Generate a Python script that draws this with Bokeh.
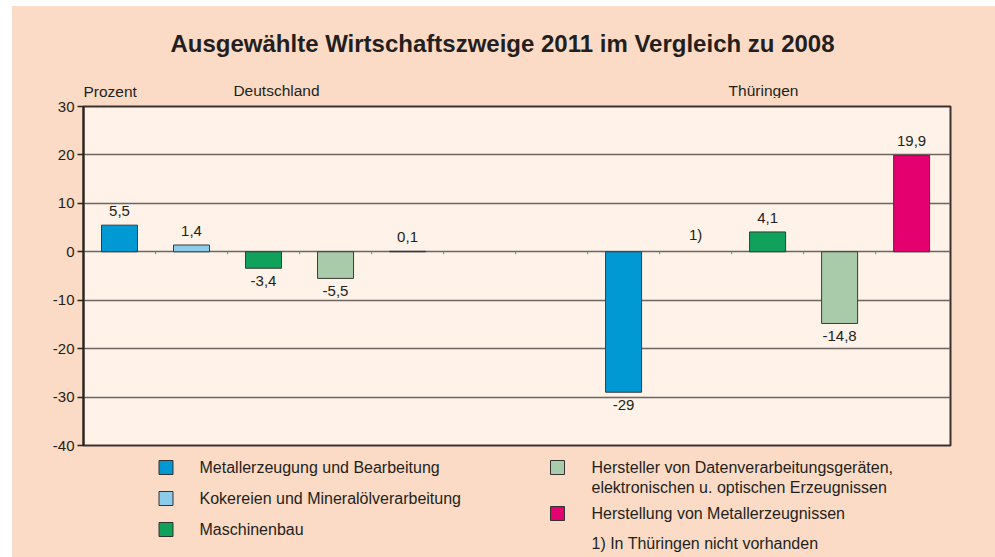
import numpy as np
from bokeh.plotting import figure
from bokeh.models import Range1d, FixedTicker, ColumnDataSource, Spacer
from bokeh.layouts import column, row
from bokeh.embed import file_html
from bokeh.resources import INLINE
from bokeh.core.properties import value

# ---------------- data ----------------
title = "Ausgewählte Wirtschaftszweige 2011 im Vergleich zu 2008"
unit_label = "Prozent"
regions = ["Deutschland", "Thüringen"]
industries = [
    "Metallerzeugung und Bearbeitung",
    "Kokereien und Mineralölverarbeitung",
    "Maschinenbau",
    "Hersteller von Datenverarbeitungsgeräten,\nelektronischen u. optischen Erzeugnissen",
    "Herstellung von Metallerzeugnissen",
]
colors = ["#0099d4", "#8dcbea", "#10a15b", "#aacbaa", "#e4006f"]
deutschland = [5.5, 1.4, -3.4, -5.5, 0.1]
thueringen = [-29.0, None, 4.1, -14.8, 19.9]   # None -> footnote 1)
footnote = "1) In Thüringen nicht vorhanden"
y_ticks = [30, 20, 10, 0, -10, -20, -30, -40]

# ---------------- styles ----------------
FONT = "Liberation Sans"
TXT = "#231f20"
PEACH = "#fbdbc5"
PANEL = "#fef2e9"
W = 983
BL, BR = 71, 45               # left / right borders around the plot frame
group_start = [0, 7]          # slot where each region's bars begin


def fmt(v):
    if v is None:
        return "1)"
    s = f"{v:.1f}"
    if s.endswith(".0"):
        s = s[:-2]
    return s.replace(".", ",")


xs, tops, cols, labels = [], [], [], []
for g, vals in zip(group_start, [deutschland, thueringen]):
    for i, v in enumerate(vals):
        xs.append(g + i)
        tops.append(np.nan if v is None else v)
        cols.append(colors[i])
        labels.append(fmt(v))

has = [not np.isnan(t) for t in tops]
up = [(not h) or t >= 0 for h, t in zip(has, tops)]
bars = ColumnDataSource(dict(x=[x for x, h in zip(xs, has) if h],
                             top=[t for t, h in zip(tops, has) if h],
                             color=[c for c, h in zip(cols, has) if h]))
pos = ColumnDataSource(dict(x=[x for x, u in zip(xs, up) if u],
                            y=[(t if h else 0) for t, h, u in zip(tops, has, up) if u],
                            text=[l for l, u in zip(labels, up) if u]))
neg = ColumnDataSource(dict(x=[x for x, u in zip(xs, up) if not u],
                            y=[t for t, u in zip(tops, up) if not u],
                            text=[l for l, u in zip(labels, up) if not u]))


def plain(f):
    f.background_fill_color = PEACH
    f.border_fill_color = PEACH
    f.outline_line_color = None
    f.xgrid.visible = False
    f.ygrid.visible = False
    return f


# ---------------- header ----------------
head = plain(figure(width=W, height=92, x_range=Range1d(83, 950), y_range=Range1d(98, 6),
                    output_backend="svg", toolbar_location=None,
                    x_axis_location=None, y_axis_location=None,
                    min_border_left=BL, min_border_right=BR, min_border_top=0, min_border_bottom=0))
head.text(x=[502], y=[43], text=[title], text_align="center", text_baseline="middle",
          text_font=value(FONT), text_font_size="24px", text_font_style="bold", text_color=TXT)
head.text(x=[83, 276, 763], y=[90.5, 89.5, 89.5], text=[unit_label] + regions,
          text_align=["left", "center", "center"], text_baseline="middle",
          text_font=value(FONT), text_font_size="15.5px", text_color=TXT)

# ---------------- main chart ----------------
p = figure(width=W, height=357, x_range=Range1d(-0.5, 11.54), y_range=Range1d(-40, 30),
           output_backend="svg", toolbar_location=None, x_axis_location=None,
           min_border_left=BL, min_border_right=BR, min_border_top=8, min_border_bottom=10)
p.background_fill_color = PANEL
p.border_fill_color = PEACH
p.outline_line_color = "#3a322e"
p.outline_line_width = 2
p.xgrid.visible = False
p.ygrid.ticker = FixedTicker(ticks=y_ticks)
p.ygrid.grid_line_color = "#6e6460"
p.ygrid.grid_line_width = 1.5

ax = p.yaxis[0]
ax.ticker = FixedTicker(ticks=y_ticks)
ax.major_label_overrides = {t: str(t) for t in y_ticks}
ax.major_label_text_font = FONT
ax.major_label_text_font_size = "15px"
ax.major_label_text_color = TXT
ax.major_tick_out = 6
ax.major_tick_in = 0
ax.minor_tick_out = 0
ax.minor_tick_in = 0
ax.major_tick_line_color = "#2b2421"
ax.major_tick_line_width = 1.5
ax.axis_line_color = "#2b2421"
ax.axis_line_width = 2
ax.major_label_standoff = 3

# small category ticks on the zero line
bnd = np.arange(0.5, 11.0, 1.0)
p.segment(x0=bnd, y0=np.zeros_like(bnd), x1=bnd, y1=np.full_like(bnd, -0.5),
          line_color="#8a807a", line_width=1)

p.vbar(x="x", top="top", bottom=0, width=0.5, fill_color="color",
       line_color="#3a3a3a", line_width=1, source=bars)

p.text(x="x", y="y", text="text", source=pos, text_align="center", text_baseline="bottom",
       y_offset=-9, text_font=value(FONT), text_font_size="15px", text_color=TXT)
p.text(x="x", y="y", text="text", source=neg, text_align="center", text_baseline="top",
       y_offset=8, text_font=value(FONT), text_font_size="15px", text_color=TXT)

# ---------------- legend panel ----------------
leg = plain(figure(width=W, height=102, x_range=Range1d(83, 950), y_range=Range1d(557, 455),
                   output_backend="svg", toolbar_location=None,
                   x_axis_location=None, y_axis_location=None,
                   min_border_left=BL, min_border_right=BR, min_border_top=0, min_border_bottom=0))

sq_x = [165.5, 165.5, 165.5, 557, 557]
sq_y = [467, 498, 529, 467, 513]
tx_x = [199, 199, 199, 591, 591]
leg.rect(x=sq_x, y=sq_y, width=14, height=14, width_units="screen", height_units="screen",
         fill_color=colors, line_color="#333333", line_width=1)
lx, ly, lt = [], [], []
for i, name in enumerate(industries):
    for j, line in enumerate(name.split("\n")):
        lx.append(tx_x[i]); ly.append(sq_y[i] + 20 * j); lt.append(line)
lx.append(591); ly.append(543); lt.append(footnote)
leg.text(x=lx, y=ly, text=lt, text_align="left", text_baseline="middle",
         text_font=value(FONT), text_font_size="16px", text_color=TXT)

inner = column(head, p, leg, spacing=0, styles={"background-color": PEACH})
layout = column(Spacer(height=6, width=995),
                row(Spacer(width=12, height=551), inner, spacing=0),
                spacing=0)
open("out.html", "w").write(file_html(layout, INLINE))
